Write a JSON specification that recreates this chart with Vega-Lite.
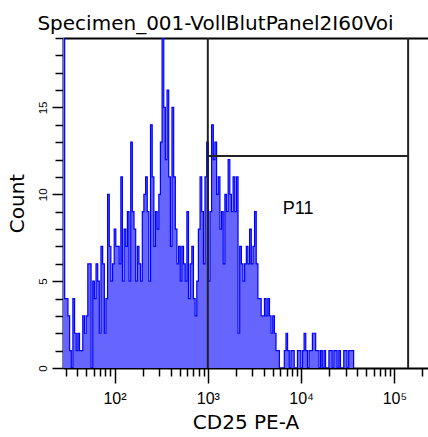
{
  "$schema": "https://vega.github.io/schema/vega-lite/v6.json",
  "autosize": {"type": "none"},
  "width": 365,
  "height": 330,
  "padding": {"left": 63, "top": 38, "right": 0, "bottom": 69},
  "background": "white",
  "config": {"view": {"stroke": null}},
  "title": {"text": "Specimen_001-VollBlutPanel2I60Voi", "font": "DejaVu Sans", "fontSize": 20, "fontWeight": "normal", "color": "black", "anchor": "middle", "frame": "group", "dx": -30, "dy": 18, "offset": 5, "baseline": "alphabetic"},
  "resolve": {"axis": {"x": "independent", "y": "independent"}},
  "datasets": {
    "hist": [
      {"log_cd25": 1.448, "count": 30}, {"log_cd25": 1.466, "count": 4}, {"log_cd25": 1.483, "count": 4}, {"log_cd25": 1.501, "count": 3},
      {"log_cd25": 1.519, "count": 1}, {"log_cd25": 1.537, "count": 0}, {"log_cd25": 1.554, "count": 4}, {"log_cd25": 1.572, "count": 2},
      {"log_cd25": 1.590, "count": 1}, {"log_cd25": 1.607, "count": 2}, {"log_cd25": 1.625, "count": 1}, {"log_cd25": 1.643, "count": 1},
      {"log_cd25": 1.660, "count": 3}, {"log_cd25": 1.678, "count": 2}, {"log_cd25": 1.696, "count": 3}, {"log_cd25": 1.714, "count": 6},
      {"log_cd25": 1.731, "count": 6}, {"log_cd25": 1.749, "count": 0}, {"log_cd25": 1.767, "count": 5}, {"log_cd25": 1.784, "count": 4},
      {"log_cd25": 1.802, "count": 6}, {"log_cd25": 1.820, "count": 5}, {"log_cd25": 1.837, "count": 2}, {"log_cd25": 1.855, "count": 7},
      {"log_cd25": 1.873, "count": 6}, {"log_cd25": 1.891, "count": 2}, {"log_cd25": 1.908, "count": 4}, {"log_cd25": 1.926, "count": 10},
      {"log_cd25": 1.944, "count": 7}, {"log_cd25": 1.961, "count": 5}, {"log_cd25": 1.979, "count": 6}, {"log_cd25": 1.997, "count": 8},
      {"log_cd25": 2.014, "count": 7}, {"log_cd25": 2.032, "count": 7}, {"log_cd25": 2.050, "count": 6}, {"log_cd25": 2.068, "count": 11},
      {"log_cd25": 2.085, "count": 5}, {"log_cd25": 2.103, "count": 8}, {"log_cd25": 2.121, "count": 7}, {"log_cd25": 2.138, "count": 9},
      {"log_cd25": 2.156, "count": 5}, {"log_cd25": 2.174, "count": 13}, {"log_cd25": 2.191, "count": 9}, {"log_cd25": 2.209, "count": 8},
      {"log_cd25": 2.227, "count": 5}, {"log_cd25": 2.245, "count": 7}, {"log_cd25": 2.262, "count": 6}, {"log_cd25": 2.280, "count": 5},
      {"log_cd25": 2.298, "count": 9}, {"log_cd25": 2.315, "count": 10}, {"log_cd25": 2.333, "count": 11}, {"log_cd25": 2.351, "count": 9},
      {"log_cd25": 2.368, "count": 5}, {"log_cd25": 2.386, "count": 14}, {"log_cd25": 2.404, "count": 11}, {"log_cd25": 2.422, "count": 7},
      {"log_cd25": 2.439, "count": 9}, {"log_cd25": 2.457, "count": 8}, {"log_cd25": 2.475, "count": 10}, {"log_cd25": 2.492, "count": 13},
      {"log_cd25": 2.510, "count": 21}, {"log_cd25": 2.528, "count": 15}, {"log_cd25": 2.545, "count": 12}, {"log_cd25": 2.563, "count": 16},
      {"log_cd25": 2.581, "count": 11}, {"log_cd25": 2.599, "count": 7}, {"log_cd25": 2.616, "count": 15}, {"log_cd25": 2.634, "count": 11},
      {"log_cd25": 2.652, "count": 8}, {"log_cd25": 2.669, "count": 6}, {"log_cd25": 2.687, "count": 7}, {"log_cd25": 2.705, "count": 5},
      {"log_cd25": 2.722, "count": 7}, {"log_cd25": 2.740, "count": 6}, {"log_cd25": 2.758, "count": 5}, {"log_cd25": 2.776, "count": 9},
      {"log_cd25": 2.793, "count": 4}, {"log_cd25": 2.811, "count": 6}, {"log_cd25": 2.829, "count": 7}, {"log_cd25": 2.846, "count": 4},
      {"log_cd25": 2.864, "count": 3}, {"log_cd25": 2.882, "count": 5}, {"log_cd25": 2.899, "count": 8}, {"log_cd25": 2.917, "count": 11},
      {"log_cd25": 2.935, "count": 9}, {"log_cd25": 2.953, "count": 6}, {"log_cd25": 2.970, "count": 11}, {"log_cd25": 2.988, "count": 13},
      {"log_cd25": 3.006, "count": 5}, {"log_cd25": 3.023, "count": 9}, {"log_cd25": 3.041, "count": 14}, {"log_cd25": 3.059, "count": 12},
      {"log_cd25": 3.076, "count": 13}, {"log_cd25": 3.094, "count": 10}, {"log_cd25": 3.112, "count": 11}, {"log_cd25": 3.130, "count": 8},
      {"log_cd25": 3.147, "count": 9}, {"log_cd25": 3.165, "count": 6}, {"log_cd25": 3.183, "count": 10}, {"log_cd25": 3.200, "count": 9},
      {"log_cd25": 3.218, "count": 12}, {"log_cd25": 3.236, "count": 10}, {"log_cd25": 3.253, "count": 9}, {"log_cd25": 3.271, "count": 11},
      {"log_cd25": 3.289, "count": 9}, {"log_cd25": 3.307, "count": 11}, {"log_cd25": 3.324, "count": 2}, {"log_cd25": 3.342, "count": 7},
      {"log_cd25": 3.360, "count": 6}, {"log_cd25": 3.377, "count": 5}, {"log_cd25": 3.395, "count": 6}, {"log_cd25": 3.413, "count": 7},
      {"log_cd25": 3.430, "count": 6}, {"log_cd25": 3.448, "count": 8}, {"log_cd25": 3.466, "count": 6}, {"log_cd25": 3.484, "count": 7},
      {"log_cd25": 3.501, "count": 9}, {"log_cd25": 3.519, "count": 6}, {"log_cd25": 3.537, "count": 4}, {"log_cd25": 3.554, "count": 4},
      {"log_cd25": 3.572, "count": 3}, {"log_cd25": 3.590, "count": 3}, {"log_cd25": 3.607, "count": 4}, {"log_cd25": 3.625, "count": 3},
      {"log_cd25": 3.643, "count": 4}, {"log_cd25": 3.661, "count": 3}, {"log_cd25": 3.678, "count": 2}, {"log_cd25": 3.696, "count": 3},
      {"log_cd25": 3.714, "count": 2}, {"log_cd25": 3.731, "count": 1}, {"log_cd25": 3.749, "count": 1}, {"log_cd25": 3.767, "count": 0},
      {"log_cd25": 3.784, "count": 0}, {"log_cd25": 3.802, "count": 0}, {"log_cd25": 3.820, "count": 1}, {"log_cd25": 3.838, "count": 2},
      {"log_cd25": 3.855, "count": 1}, {"log_cd25": 3.873, "count": 0}, {"log_cd25": 3.891, "count": 1}, {"log_cd25": 3.908, "count": 1},
      {"log_cd25": 3.926, "count": 0}, {"log_cd25": 3.944, "count": 0}, {"log_cd25": 3.961, "count": 1}, {"log_cd25": 3.979, "count": 1},
      {"log_cd25": 3.997, "count": 0}, {"log_cd25": 4.015, "count": 1}, {"log_cd25": 4.032, "count": 2}, {"log_cd25": 4.050, "count": 1},
      {"log_cd25": 4.068, "count": 0}, {"log_cd25": 4.085, "count": 1}, {"log_cd25": 4.103, "count": 1}, {"log_cd25": 4.121, "count": 2},
      {"log_cd25": 4.138, "count": 2}, {"log_cd25": 4.156, "count": 1}, {"log_cd25": 4.174, "count": 1}, {"log_cd25": 4.192, "count": 0},
      {"log_cd25": 4.209, "count": 1}, {"log_cd25": 4.227, "count": 0}, {"log_cd25": 4.245, "count": 1}, {"log_cd25": 4.262, "count": 0},
      {"log_cd25": 4.280, "count": 0}, {"log_cd25": 4.298, "count": 1}, {"log_cd25": 4.315, "count": 1}, {"log_cd25": 4.333, "count": 0},
      {"log_cd25": 4.351, "count": 1}, {"log_cd25": 4.369, "count": 1}, {"log_cd25": 4.386, "count": 0}, {"log_cd25": 4.404, "count": 1},
      {"log_cd25": 4.422, "count": 0}, {"log_cd25": 4.439, "count": 0}, {"log_cd25": 4.457, "count": 1}, {"log_cd25": 4.475, "count": 1},
      {"log_cd25": 4.492, "count": 0}, {"log_cd25": 4.510, "count": 1}, {"log_cd25": 4.528, "count": 1}, {"log_cd25": 4.546, "count": 1},
      {"log_cd25": 4.563, "count": 0}
    ],
    "gate": [
      {"gate": "P11", "lo": 3.0, "hi": 5.147, "level": 12.2}
    ]
  },
  "layer": [
    {
      "data": {"name": "hist"},
      "mark": {"type": "area", "interpolate": "step-after", "color": "#6666ff", "opacity": 1, "clip": true},
      "encoding": {
        "x": {"field": "log_cd25", "type": "quantitative",
          "scale": {"domain": [1.448, 5.36], "nice": false, "zero": false},
          "axis": {"orient": "bottom", "title": "CD25 PE-A", "titleFont": "DejaVu Sans", "titleFontSize": 20, "titleFontWeight": "normal", "titleColor": "black", "titlePadding": 6,
            "values": [2, 3, 4, 5],
            "labelExpr": "datum.value == 2 ? '10²' : datum.value == 3 ? '10³' : datum.value == 4 ? '10⁴' : '10⁵'",
            "labelFont": "Liberation Sans", "labelFontSize": 16, "labelColor": "black", "labelPadding": 7, "labelFlush": false, "labelOverlap": false, "labelBound": false,
            "tickSize": 15, "tickColor": "black", "tickWidth": 1.5, "domainColor": "black", "domainWidth": 2, "grid": false}},
        "y": {"field": "count", "type": "quantitative",
          "scale": {"domain": [0, 19], "nice": false},
          "axis": {"orient": "left", "title": "Count", "titleFont": "DejaVu Sans", "titleFontSize": 20, "titleFontWeight": "normal", "titleColor": "black", "titlePadding": 10,
            "values": [0, 5, 10, 15],
            "labelAngle": 270, "labelAlign": "center", "labelBaseline": "bottom",
            "labelFont": "Liberation Sans", "labelFontSize": 11.5, "labelColor": "black", "labelPadding": 4, "labelOverlap": false, "labelBound": false, "labelFlush": false,
            "tickSize": 11, "tickColor": "black", "tickWidth": 1.5, "domainColor": "black", "domainWidth": 2, "grid": false}}
      }
    },
    {
      "data": {"name": "hist"},
      "mark": {"type": "line", "interpolate": "step-after", "color": "#0000ff", "strokeWidth": 1.2, "clip": true},
      "encoding": {
        "x": {"field": "log_cd25", "type": "quantitative", "scale": {"domain": [1.448, 5.36], "nice": false, "zero": false},
          "axis": {"orient": "bottom", "title": null, "labels": false, "domain": false, "grid": false,
            "values": [1.477, 1.602, 1.699, 1.778, 1.845, 1.903, 1.954, 2.301, 2.477, 2.602, 2.699, 2.778, 2.845, 2.903, 2.954, 3.301, 3.477, 3.602, 3.699, 3.778, 3.845, 3.903, 3.954, 4.301, 4.477, 4.602, 4.699, 4.778, 4.845, 4.903, 4.954, 5.301],
            "tickSize": 8, "tickColor": "black", "tickWidth": 1.5}},
        "y": {"field": "count", "type": "quantitative", "scale": {"domain": [0, 19], "nice": false},
          "axis": {"orient": "left", "title": null, "labels": false, "domain": false, "grid": false,
            "values": [1, 2, 3, 4, 6, 7, 8, 9, 11, 12, 13, 14, 16, 17, 18, 19],
            "tickSize": 8, "tickColor": "black", "tickWidth": 1.5}}
      }
    },
    {
      "data": {"name": "gate"},
      "mark": {"type": "rule", "color": "#222222", "strokeWidth": 2},
      "encoding": {
        "x": {"field": "lo", "type": "quantitative", "scale": {"domain": [1.448, 5.36], "nice": false, "zero": false},
          "axis": {"orient": "top", "labels": false, "ticks": false, "title": null, "domainColor": "black", "domainWidth": 2, "grid": false}}
      }
    },
    {
      "data": {"name": "gate"},
      "mark": {"type": "rule", "color": "#222222", "strokeWidth": 2},
      "encoding": {
        "x": {"field": "hi", "type": "quantitative", "scale": {"domain": [1.448, 5.36], "nice": false, "zero": false}, "axis": null}
      }
    },
    {
      "data": {"name": "gate"},
      "mark": {"type": "rule", "color": "#222222", "strokeWidth": 2},
      "encoding": {
        "x": {"field": "lo", "type": "quantitative", "scale": {"domain": [1.448, 5.36], "nice": false, "zero": false}, "axis": null},
        "x2": {"field": "hi"},
        "y": {"field": "level", "type": "quantitative", "scale": {"domain": [0, 19], "nice": false}, "axis": null}
      }
    },
    {
      "data": {"name": "gate"},
      "mark": {"type": "text", "font": "Liberation Sans", "fontSize": 18, "color": "black", "align": "left", "baseline": "alphabetic", "dx": 75, "dy": 58},
      "encoding": {
        "x": {"field": "lo", "type": "quantitative", "scale": {"domain": [1.448, 5.36], "nice": false, "zero": false}, "axis": null},
        "y": {"field": "level", "type": "quantitative", "scale": {"domain": [0, 19], "nice": false}, "axis": null},
        "text": {"field": "gate"}
      }
    }
  ]
}
